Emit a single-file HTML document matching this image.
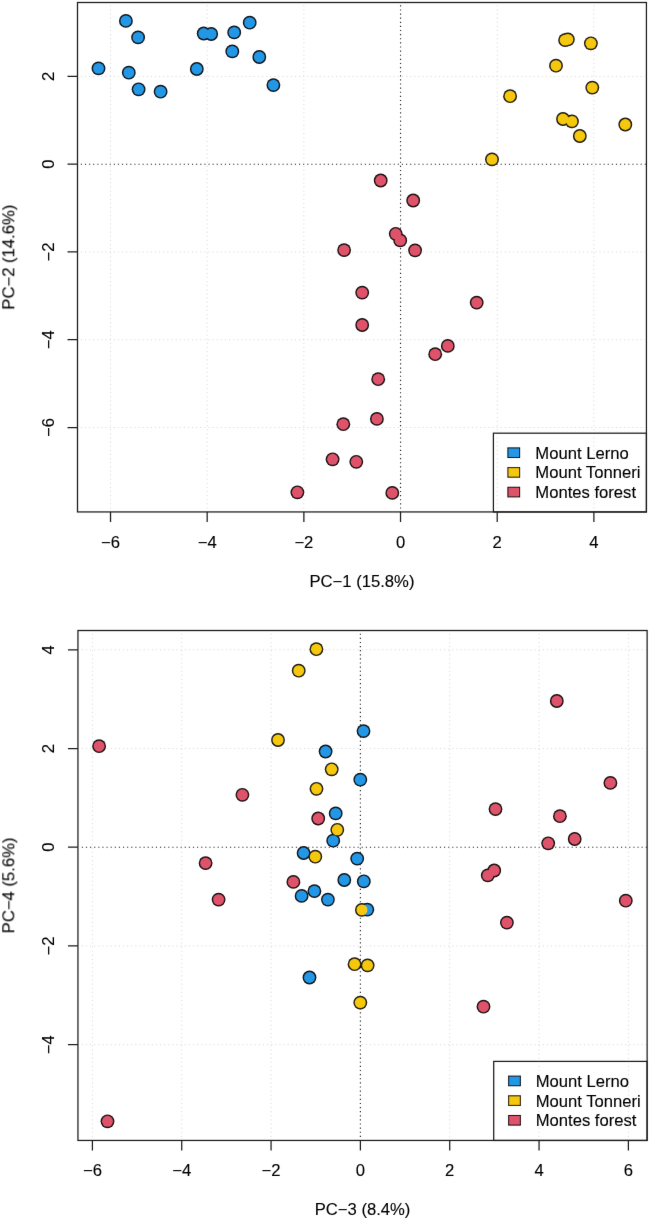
<!DOCTYPE html>
<html><head><meta charset="utf-8"><style>
html,body{margin:0;padding:0;background:#fff;}
svg{display:block;will-change:transform;}
text{font-family:"Liberation Sans", sans-serif;font-size:16px;fill:#000;stroke:#000;stroke-width:0.12px;}
</style></head><body>
<svg width="649" height="1221" viewBox="0 0 649 1221">
<defs><filter id="bl" x="0" y="0" width="100%" height="100%" filterUnits="userSpaceOnUse"><feConvolveMatrix order="3" kernelMatrix="0.00276 0.04704 0.00276 0.04704 0.80077 0.04704 0.00276 0.04704 0.00276" edgeMode="none"/></filter></defs>
<rect width="649" height="1221" fill="#fff"/>
<g filter="url(#bl)">
<path d="M110.52 5.27V511.94M207.19 5.27V511.94M303.87 5.27V511.94M497.21 5.27V511.94M593.89 5.27V511.94M80.83 427.5H646.42M80.83 339.74H646.42M80.83 251.98H646.42M80.83 76.46H646.42" stroke="#dadada" stroke-width="1" stroke-dasharray="1.15 2.966" fill="none"/>
<path d="M80.83 164.22H646.42M400.54 5.27V511.94" stroke="#2a2a2a" stroke-width="1.15" stroke-dasharray="1.15 2.966" fill="none"/>
<g fill="#111"><circle cx="125.9" cy="20.9" r="6.9"/><circle cx="138.1" cy="37.4" r="6.9"/><circle cx="98.5" cy="68.4" r="6.9"/><circle cx="128.8" cy="72.7" r="6.9"/><circle cx="138.6" cy="89.3" r="6.9"/><circle cx="160.6" cy="91.7" r="6.9"/><circle cx="203.7" cy="33.5" r="6.9"/><circle cx="211.2" cy="34" r="6.9"/><circle cx="234.2" cy="32.4" r="6.9"/><circle cx="249.7" cy="22.7" r="6.9"/><circle cx="232.3" cy="51.4" r="6.9"/><circle cx="259.3" cy="57" r="6.9"/><circle cx="196.8" cy="69" r="6.9"/><circle cx="273.4" cy="85.1" r="6.9"/><circle cx="565.1" cy="40.1" r="6.9"/><circle cx="567.8" cy="39.4" r="6.9"/><circle cx="590.9" cy="43.3" r="6.9"/><circle cx="556" cy="65.7" r="6.9"/><circle cx="592.3" cy="87.6" r="6.9"/><circle cx="510.1" cy="96.2" r="6.9"/><circle cx="563" cy="119" r="6.9"/><circle cx="571.9" cy="121.4" r="6.9"/><circle cx="579.8" cy="136" r="6.9"/><circle cx="625.3" cy="124.5" r="6.9"/><circle cx="492" cy="159.4" r="6.9"/><circle cx="380.7" cy="180.5" r="6.9"/><circle cx="413.2" cy="200.5" r="6.9"/><circle cx="395.7" cy="233.8" r="6.9"/><circle cx="400.2" cy="240.4" r="6.9"/><circle cx="344.1" cy="250.1" r="6.9"/><circle cx="415.1" cy="250.4" r="6.9"/><circle cx="362.2" cy="292.6" r="6.9"/><circle cx="476.7" cy="302.6" r="6.9"/><circle cx="362.2" cy="325" r="6.9"/><circle cx="447.8" cy="345.9" r="6.9"/><circle cx="435.2" cy="354.2" r="6.9"/><circle cx="378.2" cy="379.2" r="6.9"/><circle cx="343.3" cy="424.2" r="6.9"/><circle cx="376.9" cy="418.9" r="6.9"/><circle cx="332.6" cy="459.3" r="6.9"/><circle cx="356.3" cy="461.8" r="6.9"/><circle cx="297.4" cy="492.3" r="6.9"/><circle cx="392.3" cy="492.9" r="6.9"/></g>
<g><circle cx="125.9" cy="20.9" r="5.45" fill="#2297E6"/><circle cx="138.1" cy="37.4" r="5.45" fill="#2297E6"/><circle cx="98.5" cy="68.4" r="5.45" fill="#2297E6"/><circle cx="128.8" cy="72.7" r="5.45" fill="#2297E6"/><circle cx="138.6" cy="89.3" r="5.45" fill="#2297E6"/><circle cx="160.6" cy="91.7" r="5.45" fill="#2297E6"/><circle cx="203.7" cy="33.5" r="5.45" fill="#2297E6"/><circle cx="211.2" cy="34" r="5.45" fill="#2297E6"/><circle cx="234.2" cy="32.4" r="5.45" fill="#2297E6"/><circle cx="249.7" cy="22.7" r="5.45" fill="#2297E6"/><circle cx="232.3" cy="51.4" r="5.45" fill="#2297E6"/><circle cx="259.3" cy="57" r="5.45" fill="#2297E6"/><circle cx="196.8" cy="69" r="5.45" fill="#2297E6"/><circle cx="273.4" cy="85.1" r="5.45" fill="#2297E6"/><circle cx="565.1" cy="40.1" r="5.45" fill="#F5C710"/><circle cx="567.8" cy="39.4" r="5.45" fill="#F5C710"/><circle cx="590.9" cy="43.3" r="5.45" fill="#F5C710"/><circle cx="556" cy="65.7" r="5.45" fill="#F5C710"/><circle cx="592.3" cy="87.6" r="5.45" fill="#F5C710"/><circle cx="510.1" cy="96.2" r="5.45" fill="#F5C710"/><circle cx="563" cy="119" r="5.45" fill="#F5C710"/><circle cx="571.9" cy="121.4" r="5.45" fill="#F5C710"/><circle cx="579.8" cy="136" r="5.45" fill="#F5C710"/><circle cx="625.3" cy="124.5" r="5.45" fill="#F5C710"/><circle cx="492" cy="159.4" r="5.45" fill="#F5C710"/><circle cx="380.7" cy="180.5" r="5.45" fill="#DF536B"/><circle cx="413.2" cy="200.5" r="5.45" fill="#DF536B"/><circle cx="395.7" cy="233.8" r="5.45" fill="#DF536B"/><circle cx="400.2" cy="240.4" r="5.45" fill="#DF536B"/><circle cx="344.1" cy="250.1" r="5.45" fill="#DF536B"/><circle cx="415.1" cy="250.4" r="5.45" fill="#DF536B"/><circle cx="362.2" cy="292.6" r="5.45" fill="#DF536B"/><circle cx="476.7" cy="302.6" r="5.45" fill="#DF536B"/><circle cx="362.2" cy="325" r="5.45" fill="#DF536B"/><circle cx="447.8" cy="345.9" r="5.45" fill="#DF536B"/><circle cx="435.2" cy="354.2" r="5.45" fill="#DF536B"/><circle cx="378.2" cy="379.2" r="5.45" fill="#DF536B"/><circle cx="343.3" cy="424.2" r="5.45" fill="#DF536B"/><circle cx="376.9" cy="418.9" r="5.45" fill="#DF536B"/><circle cx="332.6" cy="459.3" r="5.45" fill="#DF536B"/><circle cx="356.3" cy="461.8" r="5.45" fill="#DF536B"/><circle cx="297.4" cy="492.3" r="5.45" fill="#DF536B"/><circle cx="392.3" cy="492.9" r="5.45" fill="#DF536B"/></g>
<rect x="493.4" y="433.2" width="153.02" height="78.74" fill="none" stroke="#1e1e1e" stroke-width="1.25"/>
<rect x="507.9" y="447.9" width="11.7" height="9.6" fill="#2297E6" stroke="#111" stroke-width="1.05"/>
<text transform="translate(535.3 458.6) scale(1.04 1)">Mount Lerno</text>
<rect x="507.9" y="467.6" width="11.7" height="9.6" fill="#F5C710" stroke="#111" stroke-width="1.05"/>
<text transform="translate(535.3 478.3) scale(1.04 1)">Mount Tonneri</text>
<rect x="507.9" y="487.3" width="11.7" height="9.6" fill="#DF536B" stroke="#111" stroke-width="1.05"/>
<text transform="translate(535.3 498) scale(1.04 1)">Montes forest</text>
<rect x="77.5" y="2.5" width="568.92" height="509.44" fill="none" stroke="#1e1e1e" stroke-width="1.25"/>
<path d="M110.52 511.94v10M207.19 511.94v10M303.87 511.94v10M400.54 511.94v10M497.21 511.94v10M593.89 511.94v10M77.5 427.5h-10M77.5 339.74h-10M77.5 251.98h-10M77.5 164.22h-10M77.5 76.46h-10" stroke="#1e1e1e" stroke-width="1.25" fill="none"/>
<text transform="translate(110.52 547.84) scale(1.04 1)" text-anchor="middle">−6</text>
<text transform="translate(207.19 547.84) scale(1.04 1)" text-anchor="middle">−4</text>
<text transform="translate(303.87 547.84) scale(1.04 1)" text-anchor="middle">−2</text>
<text transform="translate(400.54 547.84) scale(1.04 1)" text-anchor="middle">0</text>
<text transform="translate(497.21 547.84) scale(1.04 1)" text-anchor="middle">2</text>
<text transform="translate(593.89 547.84) scale(1.04 1)" text-anchor="middle">4</text>
<text transform="translate(53.8 427.5) rotate(-90) scale(1.04 1)" text-anchor="middle">−6</text>
<text transform="translate(53.8 339.74) rotate(-90) scale(1.04 1)" text-anchor="middle">−4</text>
<text transform="translate(53.8 251.98) rotate(-90) scale(1.04 1)" text-anchor="middle">−2</text>
<text transform="translate(53.8 164.22) rotate(-90) scale(1.04 1)" text-anchor="middle">0</text>
<text transform="translate(53.8 76.46) rotate(-90) scale(1.04 1)" text-anchor="middle">2</text>
<text transform="translate(361.96 586.64) scale(1.04 1)" text-anchor="middle">PC−1 (15.8%)</text>
<text transform="translate(14.3 257.22) rotate(-90) scale(1.04 1)" text-anchor="middle">PC−2 (14.6%)</text>
<path d="M92.4 633.66V1140.44M181.73 633.66V1140.44M271.06 633.66V1140.44M449.72 633.66V1140.44M539.05 633.66V1140.44M628.38 633.66V1140.44M81.8 1044.67H647.12M81.8 945.95H647.12M81.8 748.51H647.12M81.8 649.79H647.12" stroke="#dadada" stroke-width="1" stroke-dasharray="1.15 2.966" fill="none"/>
<path d="M81.8 847.23H647.12M360.39 633.66V1140.44" stroke="#2a2a2a" stroke-width="1.15" stroke-dasharray="1.15 2.966" fill="none"/>
<g fill="#111"><circle cx="363.5" cy="731.1" r="6.9"/><circle cx="325.6" cy="751.5" r="6.9"/><circle cx="360.3" cy="779.7" r="6.9"/><circle cx="335.7" cy="813.4" r="6.9"/><circle cx="333.2" cy="840.7" r="6.9"/><circle cx="303.6" cy="853" r="6.9"/><circle cx="357.2" cy="858.6" r="6.9"/><circle cx="344.3" cy="880" r="6.9"/><circle cx="363.8" cy="881.3" r="6.9"/><circle cx="314.4" cy="891.1" r="6.9"/><circle cx="301.6" cy="895.9" r="6.9"/><circle cx="327.9" cy="899.6" r="6.9"/><circle cx="367.3" cy="909.6" r="6.9"/><circle cx="309.5" cy="977.5" r="6.9"/><circle cx="316.4" cy="649.2" r="6.9"/><circle cx="298.7" cy="670.7" r="6.9"/><circle cx="278" cy="740" r="6.9"/><circle cx="331.7" cy="769.3" r="6.9"/><circle cx="316.5" cy="788.8" r="6.9"/><circle cx="337.3" cy="829.8" r="6.9"/><circle cx="315.3" cy="856.7" r="6.9"/><circle cx="361.9" cy="909.9" r="6.9"/><circle cx="354.6" cy="964.2" r="6.9"/><circle cx="367.6" cy="965.4" r="6.9"/><circle cx="360.3" cy="1002.6" r="6.9"/><circle cx="99.1" cy="746.2" r="6.9"/><circle cx="242.4" cy="794.8" r="6.9"/><circle cx="318.2" cy="818.5" r="6.9"/><circle cx="205.6" cy="863.1" r="6.9"/><circle cx="293.4" cy="881.9" r="6.9"/><circle cx="218.6" cy="899.6" r="6.9"/><circle cx="107.5" cy="1121.3" r="6.9"/><circle cx="556.8" cy="701" r="6.9"/><circle cx="610.4" cy="782.9" r="6.9"/><circle cx="495.5" cy="809.1" r="6.9"/><circle cx="559.9" cy="816.2" r="6.9"/><circle cx="574.7" cy="839" r="6.9"/><circle cx="548.2" cy="843.3" r="6.9"/><circle cx="494.2" cy="870.5" r="6.9"/><circle cx="487.8" cy="875.4" r="6.9"/><circle cx="625.8" cy="900.7" r="6.9"/><circle cx="506.9" cy="922.6" r="6.9"/><circle cx="483.5" cy="1006.7" r="6.9"/></g>
<g><circle cx="363.5" cy="731.1" r="5.45" fill="#2297E6"/><circle cx="325.6" cy="751.5" r="5.45" fill="#2297E6"/><circle cx="360.3" cy="779.7" r="5.45" fill="#2297E6"/><circle cx="335.7" cy="813.4" r="5.45" fill="#2297E6"/><circle cx="333.2" cy="840.7" r="5.45" fill="#2297E6"/><circle cx="303.6" cy="853" r="5.45" fill="#2297E6"/><circle cx="357.2" cy="858.6" r="5.45" fill="#2297E6"/><circle cx="344.3" cy="880" r="5.45" fill="#2297E6"/><circle cx="363.8" cy="881.3" r="5.45" fill="#2297E6"/><circle cx="314.4" cy="891.1" r="5.45" fill="#2297E6"/><circle cx="301.6" cy="895.9" r="5.45" fill="#2297E6"/><circle cx="327.9" cy="899.6" r="5.45" fill="#2297E6"/><circle cx="367.3" cy="909.6" r="5.45" fill="#2297E6"/><circle cx="309.5" cy="977.5" r="5.45" fill="#2297E6"/><circle cx="316.4" cy="649.2" r="5.45" fill="#F5C710"/><circle cx="298.7" cy="670.7" r="5.45" fill="#F5C710"/><circle cx="278" cy="740" r="5.45" fill="#F5C710"/><circle cx="331.7" cy="769.3" r="5.45" fill="#F5C710"/><circle cx="316.5" cy="788.8" r="5.45" fill="#F5C710"/><circle cx="337.3" cy="829.8" r="5.45" fill="#F5C710"/><circle cx="315.3" cy="856.7" r="5.45" fill="#F5C710"/><circle cx="361.9" cy="909.9" r="5.45" fill="#F5C710"/><circle cx="354.6" cy="964.2" r="5.45" fill="#F5C710"/><circle cx="367.6" cy="965.4" r="5.45" fill="#F5C710"/><circle cx="360.3" cy="1002.6" r="5.45" fill="#F5C710"/><circle cx="99.1" cy="746.2" r="5.45" fill="#DF536B"/><circle cx="242.4" cy="794.8" r="5.45" fill="#DF536B"/><circle cx="318.2" cy="818.5" r="5.45" fill="#DF536B"/><circle cx="205.6" cy="863.1" r="5.45" fill="#DF536B"/><circle cx="293.4" cy="881.9" r="5.45" fill="#DF536B"/><circle cx="218.6" cy="899.6" r="5.45" fill="#DF536B"/><circle cx="107.5" cy="1121.3" r="5.45" fill="#DF536B"/><circle cx="556.8" cy="701" r="5.45" fill="#DF536B"/><circle cx="610.4" cy="782.9" r="5.45" fill="#DF536B"/><circle cx="495.5" cy="809.1" r="5.45" fill="#DF536B"/><circle cx="559.9" cy="816.2" r="5.45" fill="#DF536B"/><circle cx="574.7" cy="839" r="5.45" fill="#DF536B"/><circle cx="548.2" cy="843.3" r="5.45" fill="#DF536B"/><circle cx="494.2" cy="870.5" r="5.45" fill="#DF536B"/><circle cx="487.8" cy="875.4" r="5.45" fill="#DF536B"/><circle cx="625.8" cy="900.7" r="5.45" fill="#DF536B"/><circle cx="506.9" cy="922.6" r="5.45" fill="#DF536B"/><circle cx="483.5" cy="1006.7" r="5.45" fill="#DF536B"/></g>
<rect x="493.7" y="1061.4" width="153.42" height="79.04" fill="none" stroke="#1e1e1e" stroke-width="1.25"/>
<rect x="508.65" y="1076.1" width="11.7" height="9.6" fill="#2297E6" stroke="#111" stroke-width="1.05"/>
<text transform="translate(535.7 1086.8) scale(1.04 1)">Mount Lerno</text>
<rect x="508.65" y="1095.8" width="11.7" height="9.6" fill="#F5C710" stroke="#111" stroke-width="1.05"/>
<text transform="translate(535.7 1106.5) scale(1.04 1)">Mount Tonneri</text>
<rect x="508.65" y="1115.5" width="11.7" height="9.6" fill="#DF536B" stroke="#111" stroke-width="1.05"/>
<text transform="translate(535.7 1126.2) scale(1.04 1)">Montes forest</text>
<rect x="77.95" y="630.51" width="569.17" height="509.93" fill="none" stroke="#1e1e1e" stroke-width="1.25"/>
<path d="M92.4 1140.44v10M181.73 1140.44v10M271.06 1140.44v10M360.39 1140.44v10M449.72 1140.44v10M539.05 1140.44v10M628.38 1140.44v10M77.95 1044.67h-10M77.95 945.95h-10M77.95 847.23h-10M77.95 748.51h-10M77.95 649.79h-10" stroke="#1e1e1e" stroke-width="1.25" fill="none"/>
<text transform="translate(92.4 1176.34) scale(1.04 1)" text-anchor="middle">−6</text>
<text transform="translate(181.73 1176.34) scale(1.04 1)" text-anchor="middle">−4</text>
<text transform="translate(271.06 1176.34) scale(1.04 1)" text-anchor="middle">−2</text>
<text transform="translate(360.39 1176.34) scale(1.04 1)" text-anchor="middle">0</text>
<text transform="translate(449.72 1176.34) scale(1.04 1)" text-anchor="middle">2</text>
<text transform="translate(539.05 1176.34) scale(1.04 1)" text-anchor="middle">4</text>
<text transform="translate(628.38 1176.34) scale(1.04 1)" text-anchor="middle">6</text>
<text transform="translate(54.25 1044.67) rotate(-90) scale(1.04 1)" text-anchor="middle">−4</text>
<text transform="translate(54.25 945.95) rotate(-90) scale(1.04 1)" text-anchor="middle">−2</text>
<text transform="translate(54.25 847.23) rotate(-90) scale(1.04 1)" text-anchor="middle">0</text>
<text transform="translate(54.25 748.51) rotate(-90) scale(1.04 1)" text-anchor="middle">2</text>
<text transform="translate(54.25 649.79) rotate(-90) scale(1.04 1)" text-anchor="middle">4</text>
<text transform="translate(362.54 1215.14) scale(1.04 1)" text-anchor="middle">PC−3 (8.4%)</text>
<text transform="translate(14.3 885.48) rotate(-90) scale(1.04 1)" text-anchor="middle">PC−4 (5.6%)</text>
</g>
</svg>
</body></html>
